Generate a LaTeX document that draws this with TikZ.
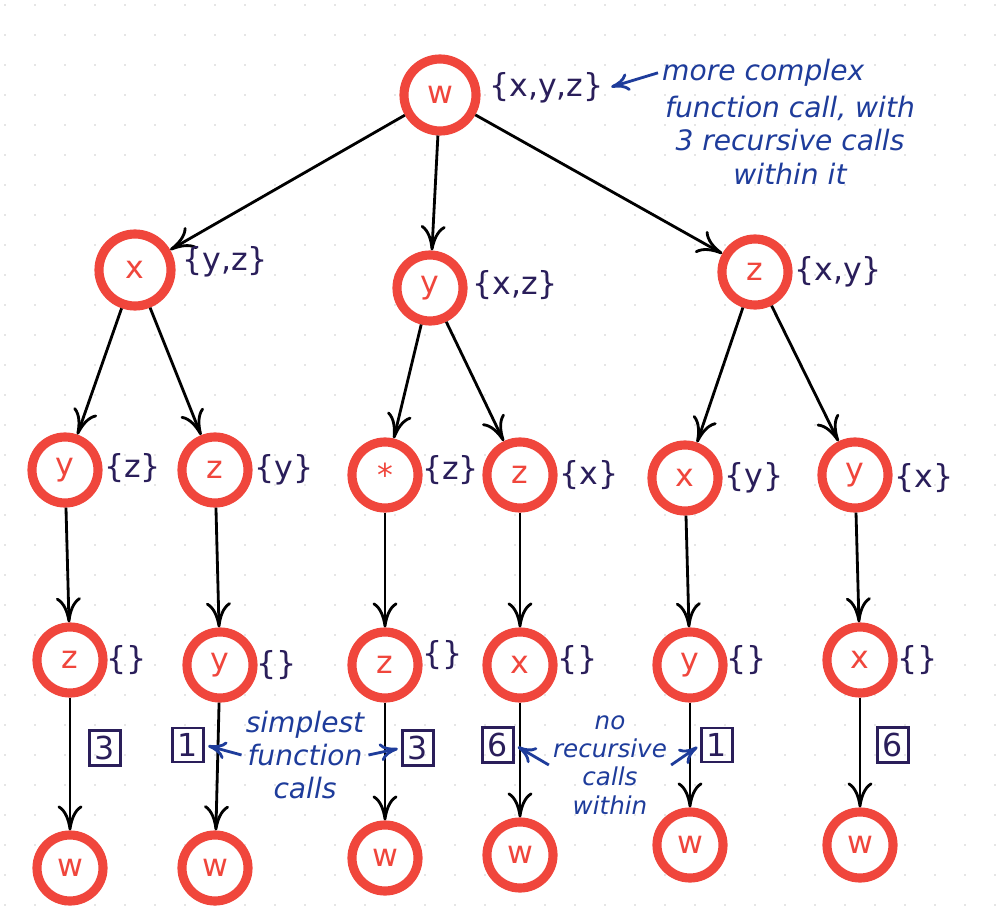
\documentclass[tikz,border=0pt]{standalone}
\usepackage{fontspec}
\setmainfont{DejaVu Sans}
\usetikzlibrary{arrows.meta}
\definecolor{rd}{HTML}{F0463C}
\definecolor{nv}{HTML}{2A1E5A}
\definecolor{bl}{HTML}{1E3C9B}
\tikzset{
 nd/.style={circle,draw=rd,line width=2.6pt,fill=white,minimum size=6.6mm,inner sep=0pt,text=rd,font=\small},
 big/.style={nd,minimum size=7.2mm},
 setl/.style={text=nv,font=\small,anchor=west,inner sep=1pt},
 bx/.style={draw=nv,thick,text=nv,font=\small,inner sep=1.5pt,minimum width=2.6mm,minimum height=3.4mm},
 ed/.style={-{To[length=2.5mm,width=2.5mm]},thick,black},
 ann/.style={text=bl,font=\footnotesize\itshape,align=center,inner sep=1pt},
 aa/.style={-{To[length=1.8mm,width=1.8mm]},thick,bl,shorten >=1pt}
}
\begin{document}
\begin{tikzpicture}[x=0.1mm,y=-0.1mm]
\fill[white] (0,0) rectangle (1000,920);
\foreach \i in {0,...,33}{\foreach \j in {0,...,30}{\fill[gray!40] (\i*30+5,\j*30+5) circle (0.8);}}
\node[big] (r) at (440,95) {w};
\node[big] (a) at (135,270) {x};
\node[nd] (b) at (430,288) {y};
\node[nd] (c) at (755,272) {z};
\node[nd] (a1) at (65,470) {y};
\node[nd] (a2) at (215,470) {z};
\node[nd] (b1) at (385,475) {*};
\node[nd] (b2) at (520,475) {z};
\node[nd] (c1) at (685,478) {x};
\node[nd] (c2) at (855,475) {y};
\node[nd] (a11) at (70,660) {z};
\node[nd] (a21) at (220,665) {y};
\node[nd] (b11) at (385,665) {z};
\node[nd] (b21) at (520,665) {x};
\node[nd] (c11) at (690,665) {y};
\node[nd] (c21) at (860,660) {x};
\node[nd] (w1) at (70,868) {w};
\node[nd] (w2) at (215,868) {w};
\node[nd] (w3) at (385,858) {w};
\node[nd] (w4) at (520,855) {w};
\node[nd] (w5) at (690,845) {w};
\node[nd] (w6) at (860,845) {w};
\foreach \p/\q in {r/a,r/b,r/c,a/a1,a/a2,b/b1,b/b2,c/c1,c/c2,a1/a11,a2/a21,b1/b11,b2/b21,c1/c11,c2/c21,a11/w1,a21/w2,b11/w3,b21/w4,c11/w5,c21/w6}
 \draw[ed] (\p) -- (\q);
\node[setl] (s0) at (485,88) {\{x,y,z\}};
\node[setl] at (178,262) {\{y,z\}};
\node[setl] at (468,285) {\{x,z\}};
\node[setl] at (790,272) {\{x,y\}};
\node[setl] at (100,468) {\{z\}};
\node[setl] at (250,470) {\{y\}};
\node[setl] at (418,470) {\{z\}};
\node[setl] at (555,475) {\{x\}};
\node[setl] at (720,478) {\{y\}};
\node[setl] at (890,478) {\{x\}};
\foreach \x/\y in {102/660,252/665,418/655,553/660,722/660,893/660} \node[setl] at (\x,\y) {\{\}};
\node[bx] (n1) at (105,748) {3};
\node[bx] (n2) at (188,745) {1};
\node[bx] (n3) at (418,748) {3};
\node[bx] (n4) at (498,745) {6};
\node[bx] (n5) at (717,745) {1};
\node[bx] (n6) at (893,745) {6};
\node[ann,anchor=north west,align=left] (t1l) at (658,55) {more complex};
\node[ann] (t1) at (790,140) {function call, with\\3 recursive calls\\within it};
\draw[aa] (t1l.west) -- (s0.east);
\node[ann] (t2) at (305,755) {simplest\\function\\calls};
\draw[aa] (t2.west) -- (n2.east);
\draw[aa] (t2.east) -- (n3.west);
\node[ann,font=\scriptsize\itshape] (t3) at (610,765) {no\\recursive\\calls\\within};
\draw[aa] (t3.west) -- (n4.east);
\draw[aa] (t3.east) -- (n5.west);
\end{tikzpicture}
\end{document}
